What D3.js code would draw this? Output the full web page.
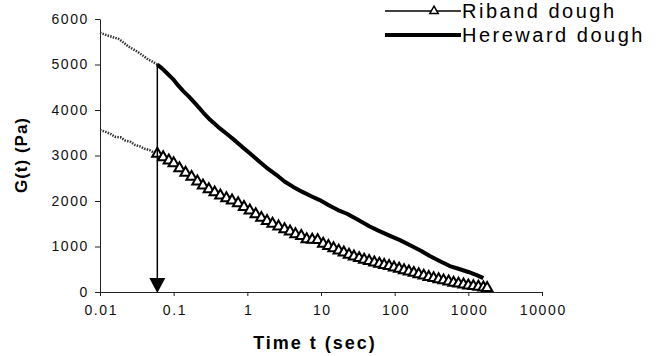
<!DOCTYPE html>
<html>
<head>
<meta charset="utf-8">
<script src="https://cdn.jsdelivr.net/npm/d3@7"></script>
<style>
  body { margin: 0; background: #fff; }
  svg { display: block; font-family: "Liberation Sans", Arial, sans-serif; }
  .tick text { font-size: 14px; letter-spacing: 1.6px; fill: #111; }
  .axis path, .axis line { stroke: #222; stroke-width: 1; }
</style>
</head>
<body>
<div class="chart"></div>
<script>
// relaxation modulus (time in s, G in Pa)
var ribandEarlyT = [0.01, 0.012, 0.014, 0.016, 0.019, 0.022, 0.026, 0.03, 0.035, 0.04, 0.047, 0.053, 0.06];
var ribandEarlyG = [3560, 3520, 3470, 3410, 3400, 3330, 3300, 3230, 3200, 3150, 3120, 3070, 3040];

var ribandT = [0.06, 0.072, 0.086, 0.1, 0.12, 0.145, 0.175, 0.21, 0.25, 0.3, 0.36, 0.43, 0.52, 0.62, 0.75, 0.9,
  1.08, 1.3, 1.55, 1.85, 2.2, 2.65, 3.2, 3.8, 4.5, 5.4, 6.4, 7.6, 9, 10.7, 12.6, 14.8, 17.4, 20.4, 24, 28, 33,
  38.5, 45, 53, 62, 72, 84, 98, 115, 134, 156, 182, 212, 248, 290, 338, 395, 460, 540, 630, 735, 860, 1000,
  1170, 1370, 1600, 1800];
var ribandG = [3040, 2960, 2890, 2830, 2720, 2620, 2530, 2430, 2340, 2260, 2190, 2120, 2060, 2010, 1950, 1870,
  1790, 1710, 1630, 1560, 1500, 1440, 1380, 1330, 1270, 1230, 1160, 1150, 1140, 1060, 1010, 960, 910, 870, 820, 780, 745,
  710, 680, 650, 620, 595, 570, 540, 510, 480, 450, 420, 390, 360, 330, 305, 280, 255, 230, 205, 185, 165, 145,
  130, 115, 100, 90];

var herewardEarlyT = [0.01, 0.012, 0.015, 0.018, 0.021, 0.024, 0.028, 0.033, 0.038, 0.045, 0.052, 0.06];
var herewardEarlyG = [5700, 5650, 5600, 5560, 5480, 5400, 5340, 5270, 5200, 5110, 5060, 5000];

var herewardT = [0.06, 0.07, 0.08, 0.098, 0.115, 0.134, 0.16, 0.2, 0.25, 0.31, 0.4, 0.55, 0.7, 0.85, 1.08, 1.4,
  1.8, 2.5, 3.2, 4.2, 5.6, 7.5, 9.6, 13.3, 17, 22.5, 30, 46, 60, 85, 118, 170, 230, 300, 420, 560, 770, 1000,
  1300, 1600];
var herewardG = [5000, 4910, 4820, 4680, 4540, 4420, 4300, 4130, 3950, 3790, 3630, 3450, 3310, 3190, 3050, 2890,
  2740, 2570, 2430, 2310, 2200, 2100, 2020, 1890, 1800, 1720, 1610, 1440, 1350, 1240, 1140, 1010, 900, 790, 670, 570, 500, 440,
  370, 305];

var xTicks = [0.01, 0.1, 1, 10, 100, 1000, 10000];
var yTicks = [0, 1000, 2000, 3000, 4000, 5000, 6000];
var seriesNames = ['Riband dough', 'Hereward dough'];
var arrowT = 0.06, arrowG = 5000;

var width = 661, height = 356;
var margin = {top: 19, right: 119, bottom: 64, left: 100};

function zip(ts, gs) {
    return ts.map((t, i) => ({t: t, g: gs[i]}));
}

var xScale = d3.scaleLog()
    .domain([0.01, 10000])
    .range([margin.left, width - margin.right]);

var yScale = d3.scaleLinear()
    .domain([0, 6000])
    .range([height - margin.bottom, margin.top]);

var line = d3.line()
    .x(d => xScale(d.t))
    .y(d => yScale(d.g));

var svg = d3.select('.chart').append('svg')
    .attr('width', width)
    .attr('height', height);

svg.append('g')
    .attr('class', 'axis axis--x')
    .attr('transform', `translate(0,${height - margin.bottom})`)
    .call(d3.axisBottom(xScale).tickValues(xTicks).tickFormat(d => String(d)).tickSizeInner(4).tickSizeOuter(0).tickPadding(9));

svg.append('g')
    .attr('class', 'axis axis--y')
    .attr('transform', `translate(${margin.left},0)`)
    .call(d3.axisLeft(yScale).tickValues(yTicks).tickFormat(d3.format('d')).tickSizeInner(5).tickSizeOuter(0).tickPadding(7));

svg.selectAll('.tick text').attr('dx', function() {
    return d3.select(this.parentNode.parentNode).classed('axis--y') ? 1 : 0.8;
});

// noisy start of both curves
[zip(herewardEarlyT, herewardEarlyG), zip(ribandEarlyT, ribandEarlyG)].forEach(function(d) {
    svg.append('path')
        .datum(d)
        .attr('d', line)
        .attr('fill', 'none')
        .attr('stroke', '#333')
        .attr('stroke-width', 2.5)
        .attr('stroke-dasharray', '1.5,1.2');
});

svg.append('path')
    .datum(zip(herewardT, herewardG))
    .attr('d', line)
    .attr('fill', 'none')
    .attr('stroke', '#000')
    .attr('stroke-width', 4)
    .attr('stroke-linejoin', 'round');

var riband = zip(ribandT, ribandG);
svg.append('path')
    .datum(riband)
    .attr('d', line)
    .attr('fill', 'none')
    .attr('stroke', '#000')
    .attr('stroke-width', 1.5);

var tri = d3.symbol().type(d3.symbolTriangle).size(46);
svg.selectAll('.marker')
    .data(riband)
    .enter().append('path')
    .attr('class', 'marker')
    .attr('transform', d => `translate(${xScale(d.t)},${yScale(d.g)})`)
    .attr('d', tri)
    .attr('fill', '#fff')
    .attr('stroke', '#000')
    .attr('stroke-width', 2);

// arrow at the end of the noisy part
var ax = xScale(arrowT);
svg.append('line')
    .attr('x1', ax).attr('x2', ax)
    .attr('y1', yScale(arrowG)).attr('y2', yScale(0) - 12)
    .attr('stroke', '#000')
    .attr('stroke-width', 1.5);
svg.append('path')
    .attr('d', `M${ax - 8},${yScale(0) - 14}L${ax + 8},${yScale(0) - 14}L${ax},${yScale(0) + 1}Z`)
    .attr('fill', '#000');

// axis titles
svg.append('text')
    .attr('x', 315)
    .attr('y', 349)
    .attr('text-anchor', 'middle')
    .style('font-weight', 'bold')
    .style('font-size', '18px')
    .style('letter-spacing', '2px')
    .text('Time t (sec)');

svg.append('text')
    .attr('transform', 'translate(27,155) rotate(-90)')
    .attr('text-anchor', 'middle')
    .style('font-weight', 'bold')
    .style('font-size', '17px')
    .style('letter-spacing', '1px')
    .text('G(t) (Pa)');

// legend
var legend = svg.append('g').attr('class', 'legend');
legend.append('line')
    .attr('x1', 385).attr('x2', 461).attr('y1', 11).attr('y2', 11)
    .attr('stroke', '#000').attr('stroke-width', 1.5);
legend.append('path')
    .attr('transform', 'translate(434,11)')
    .attr('d', d3.symbol().type(d3.symbolTriangle).size(30))
    .attr('fill', '#fff')
    .attr('stroke', '#000')
    .attr('stroke-width', 1.5);
legend.append('line')
    .attr('x1', 385).attr('x2', 461).attr('y1', 35).attr('y2', 35)
    .attr('stroke', '#000').attr('stroke-width', 4);
legend.selectAll('.legend-label')
    .data(seriesNames)
    .enter().append('text')
    .attr('class', 'legend-label')
    .attr('x', 462)
    .attr('y', (d, i) => 18 + i * 24)
    .style('font-size', '20px')
    .style('letter-spacing', '2.5px')
    .text(d => d);
</script>
</body>
</html>
